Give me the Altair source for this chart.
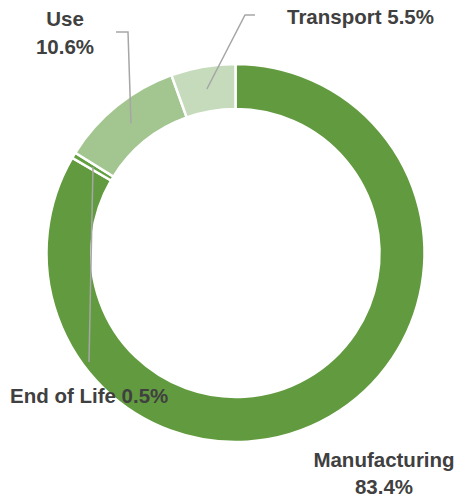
import math
import altair as alt
import pandas as pd

# ---- data ----
categories = ["Manufacturing", "End of Life", "Use", "Transport"]
shares = [83.4, 0.5, 10.6, 5.5]
colors = ["#629b3f", "#62a040", "#a3c690", "#c5dbbc"]

# ---- layout ----
W, H = 462, 499
CX, CY = 235.5, 253
R_OUT, R_IN = 189, 144
R_MID = (R_OUT + R_IN) / 2
FONT = "Liberation Sans"
FS = 20.5
TXT = "#404040"
LINE = "#a6a6a6"

df = pd.DataFrame({"category": categories, "share": shares,
                   "order": list(range(len(categories)))})

# slice mid-angles (clockwise from 12 o'clock) -> anchor points on the ring
total = sum(shares)
anchors = {}
cum = 0.0
for c, s in zip(categories, shares):
    mid = (cum + s / 2) / total * 2 * math.pi
    anchors[c] = (CX + R_MID * math.sin(mid), CY - R_MID * math.cos(mid))
    cum += s

# leader-line bends / ends (layout), starting at the computed anchors
leader_paths = {
    "Use": [(128, 32), (116, 32)],
    "Transport": [(245, 15), (255, 15)],
    "End of Life": [(89, 362)],
}
rows = []
for c, pts in leader_paths.items():
    ax, ay = anchors[c]
    seq = [(ax, ay)] + pts
    for i, (x, y) in enumerate(seq):
        rows.append({"cat": c, "i": i, "x": x, "y": y})
lines_df = pd.DataFrame(rows)

pct = {c: f"{s}%" for c, s in zip(categories, shares)}
labels_df = pd.DataFrame([
    {"t": "Use", "x": 65, "y": 26, "a": "center"},
    {"t": pct["Use"], "x": 65, "y": 54, "a": "center"},
    {"t": f"Transport {pct['Transport']}", "x": 287, "y": 24, "a": "left"},
    {"t": f"End of Life {pct['End of Life']}", "x": 10, "y": 403, "a": "left"},
    {"t": "Manufacturing", "x": 384, "y": 467, "a": "center"},
    {"t": pct["Manufacturing"], "x": 384, "y": 494, "a": "center"},
])

arc = alt.Chart(df).mark_arc(
    outerRadius=R_OUT, innerRadius=R_IN, stroke="white", strokeWidth=2.5
).encode(
    theta=alt.Theta("share:Q", stack=True),
    order=alt.Order("order:Q"),
    color=alt.Color("category:N", scale=alt.Scale(domain=categories, range=colors), legend=None),
    x=alt.value(CX),
    y=alt.value(CY),
)

leaders = alt.Chart(lines_df).mark_line(color=LINE, strokeWidth=1.5).encode(
    x=alt.X("x:Q", scale=None, axis=None),
    y=alt.Y("y:Q", scale=None, axis=None),
    detail="cat:N",
    order="i:Q",
)

def text_layer(align):
    return alt.Chart(labels_df[labels_df["a"] == align]).mark_text(
        font=FONT, fontSize=FS, fontWeight="bold", color=TXT,
        align=align, baseline="alphabetic"
    ).encode(
        x=alt.X("x:Q", scale=None, axis=None),
        y=alt.Y("y:Q", scale=None, axis=None),
        text="t:N",
    )

chart = alt.layer(arc, leaders, text_layer("center"), text_layer("left")).properties(
    width=W, height=H, padding=0, autosize=alt.AutoSizeParams(type="none")
).configure_view(stroke=None)

chart.save("out.html", embed_options={"renderer": "svg", "actions": False})
